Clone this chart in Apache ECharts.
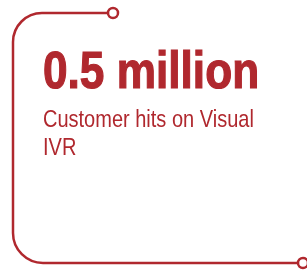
<!DOCTYPE html>
<html>
<head>
<meta charset="utf-8">
<script src="https://cdn.jsdelivr.net/npm/echarts@6/dist/echarts.min.js"></script>
<style>
  html, body { margin: 0; padding: 0; background: #fff; }
  #main { width: 307px; height: 270px; }
</style>
</head>
<body>
<div id="main"></div>
<script>
// figures shown on the card
const headline = ['0.5 million']
const captionLines = ['Customer hits on Visual', 'IVR']

const red = '#b0282e'
const myChart = echarts.init(document.getElementById('main'), null, { renderer: 'canvas' })

const stroke = { fill: null, stroke: red, lineWidth: 2.5 }
const elements = [
  // frame: top line, rounded corners, left side, bottom line
  { type: 'line', shape: { x1: 108, y1: 13, x2: 42, y2: 13 }, style: stroke },
  { type: 'arc', shape: { cx: 42, cy: 42, r: 29, startAngle: Math.PI, endAngle: Math.PI * 1.5, clockwise: true }, style: stroke },
  { type: 'line', shape: { x1: 13, y1: 42, x2: 13, y2: 233 }, style: stroke },
  { type: 'arc', shape: { cx: 43, cy: 233, r: 30, startAngle: Math.PI / 2, endAngle: Math.PI, clockwise: true }, style: stroke },
  { type: 'line', shape: { x1: 43, y1: 263, x2: 298, y2: 263 }, style: stroke },
  {
    type: 'circle',
    shape: { cx: 113, cy: 13, r: 5 },
    style: { fill: '#fff', stroke: red, lineWidth: 2.5 }
  },
  {
    type: 'circle',
    shape: { cx: 303, cy: 263, r: 5 },
    style: { fill: '#fff', stroke: red, lineWidth: 2.5 }
  },
  {
    // condensed look: squeeze the bold face horizontally
    type: 'text',
    x: 43,
    y: 48,
    scaleX: 0.85,
    style: {
      text: headline[0],
      x: 0,
      y: 0,
      verticalAlign: 'top',
      fill: red,
      stroke: red,
      lineWidth: 1.2,
      font: 'bold 52px "Liberation Sans", Arial, sans-serif'
    }
  }
]

captionLines.forEach(function (line, i) {
  elements.push({
    type: 'text',
    x: 43,
    y: 108 + i * 28,
    scaleX: 0.82,
    style: {
      text: line,
      x: 0,
      y: 0,
      verticalAlign: 'top',
      fill: red,
      font: '24.4px "Liberation Sans", Arial, sans-serif'
    }
  })
})

myChart.setOption({
  animation: false,
  graphic: { elements: elements }
})
</script>
</body>
</html>
